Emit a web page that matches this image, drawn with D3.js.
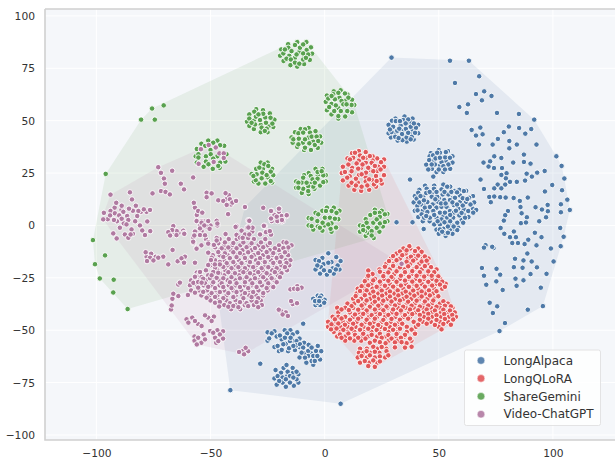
<!DOCTYPE html>
<html>
<head>
<meta charset="utf-8">
<script src="https://cdn.jsdelivr.net/npm/d3@7"></script>
<style>
  body { margin: 0; background: #fff; }
  text { font-family: "DejaVu Sans", sans-serif; }
</style>
</head>
<body>
<svg id="chart" width="615" height="462"></svg>
<script>
const seriesNames = ["LongAlpaca", "LongQLoRA", "ShareGemini", "Video-ChatGPT"]
const xTicks = [-100, -50, 0, 50, 100]
const yTicks = [-100, -75, -50, -25, 0, 25, 50, 75, 100]

// values, cluster by cluster
const longAlpaca = [
  [29.3,80.1],[54.9,78.6],[63.2,78.6],[67.7,71.2],[57.1,68],[66.3,62.7],[69.9,64],[73.1,61.8],[68.9,59.7],[59,56.5],
  [62.8,57.8],[62.3,53.7],[75.5,53.7],[85.1,53.2],[91.8,50.5],[64.4,45.6],[68.2,46.7],[66.3,42.9],[69.2,43.5],[67.6,38.6],
  [73.6,38.6],[75.9,41.3],[78.5,44.5],[80.7,47.2],[85.2,46.5],[87.9,43.8],[90.5,46],[80.9,40.3],[84.2,38.6],[80.9,36.8],
  [92.8,38.6],[101.5,33],[103.8,28.4],[87.3,33.8],[74.3,33],[77.4,32.2],[69.6,30],[72.5,30.6],[71.8,28.1],[74.2,27.4],
  [77.7,27.4],[82.6,30],[87.3,30.3],[90.2,29.5],[79.7,24.9],[77.4,24.1],[88.5,24.7],[93.1,25.2],[96.4,26],[90.8,23.3],
  [87.8,21.4],[79.4,22.5],[84.2,20.8],[81.2,20.8],[79.1,19.5],[75.8,19.5],[74.3,17.7],[77.4,17.7],[68.3,21.9],[69.8,17.4],
  [105,22.4],[99.7,19.3],[96.5,16.2],[104,16.8],[72.1,13.6],[74.3,13.8],[76.9,13.5],[79.3,13.3],[82.8,13.1],[85.5,11.7],
  [89,13.3],[72.8,11.1],[106.3,12.3],[103.5,10.1],[107.4,7.4],[103.5,6.3],[97.7,9.8],[92.4,8.7],[95.2,7.6],[97.8,6.8],
  [85.8,8.8],[86.3,5.8],[80.3,6.9],[79.1,4.9],[78.5,2.3],[88.6,3.9],[97,3.9],[94,2],[86,1.1],[88.2,1.4],
  [77.1,-1.2],[103.2,-1.2],[37.4,21.9],[47.6,23.3],[31.5,1.5],[38.5,1.5],[43.4,-1.7],[66.4,7.4],
  [104.7,-5.4],[103.4,-9.9],[78.7,-4],[82.9,-2.9],[81.2,-5.6],[83.8,-5.6],[92.1,-3.5],[95,-5.6],[89.2,-6.8],[82.2,-8.4],
  [84.7,-8.4],[87.6,-8.9],[92.8,-9.5],[99.1,-11],[70.5,-9.4],[69.8,-10.6],[74,-10.8],[73.4,-10.2],[88.8,-13.4],[83.4,-15.9],
  [87.1,-16.7],[90.7,-17.2],[100.3,-17.2],[82.9,-19.9],[86.7,-20.2],[93,-20],[68.9,-20.3],[75.3,-20.7],[76.9,-23.5],[69.8,-24],
  [90.2,-23.2],[97.2,-23.1],[75.2,-26.7],[83.6,-25.4],[87.1,-26.2],[70.8,-28.3],[84.1,-28.8],[94.7,-29.7],[78,-30.8],[72.3,-36.9],
  [75.6,-38.6],[73.7,-41.8],[89,-40.2],[95.6,-38.5],[79,-46.6],[76.6,-50.4],
  [-41.3,-78.6],[-28.2,-66],[-9.4,-46.9],[7,-85.1],[2.8,-46.5],[-46.2,-38.7],[-34.9,8.8],
  // blob near (35, 46)
  [31.2,49.8],[34.4,50.3],[38.1,49],[36.6,50.6],[30,47.1],[33.3,47.7],[35.6,46.1],[38.5,45.8],[29.3,44.6],[31.8,45.2],
  [33.9,43.6],[30.9,42.3],[34.1,40.7],[35.9,42],[38.2,42.3],[40,46.6],[39.6,44.2],[36.6,44.2],[32.7,46.2],[33,49.8],
  [35.5,48.7],[37.7,47.1],[28.6,45.8],[37.7,41.1],[32.4,41.7],[39.1,48.7],
  // blob near (50, 31)
  [48.6,32],[52.8,32.5],[50.5,34.7],[51.2,30.2],[48.3,29.1],[54.2,29.1],[50,26.7],[45.4,26.7],[52,28.3],[45.8,31.2],
  [54.9,32.3],[50.5,32.3],[49.3,34.7],[52.7,26.7],[53.1,35],[46.9,29.1],
  // big blob near (52, 8)
  [44.7,17.5],[47.9,17.5],[51.2,17.2],[53.7,18.5],[56.8,16.4],[61,16.4],[41,15.6],[43.2,13.7],[46.9,13.7],[49.3,13.7],
  [51.7,14.8],[54.2,14.8],[57.1,13.2],[59.3,14.3],[63.3,13.2],[40.3,12.8],[42.2,10],[45,11.2],[47.3,10],[49.8,11.2],
  [52.4,12.1],[54.9,12.1],[56.6,9.7],[59.3,11.2],[61.9,11.2],[63.9,10],[40.6,9.3],[40.7,7.2],[43.9,8.5],[46.1,8.8],
  [49,8.5],[51.2,8.9],[53.4,8.9],[54.9,6.9],[58.5,8],[61,7.7],[62.9,6.9],[42.5,5.3],[45,6.4],[47.6,6.9],
  [50.5,6.1],[52.7,6.1],[56.6,6.1],[59,4.8],[61.5,3.7],[65.1,6.1],[43.6,3.7],[46.1,3.7],[49,3.7],[51.2,2.9],
  [53.7,3.7],[56.3,3.7],[58.1,1.3],[60.7,1.3],[50.5,.5],[53.4,.8],[55.6,.5],[57,-1.6],[52,-1.6],[54.9,-1.9],
  [52.7,-3.5],[50.5,-1.9],[58.1,-2.2],[42,14],[44.5,15.5],[46,16],[49,16],[52.5,16],[55.5,16],[58,15.8],
  [60.5,13],[62.5,12.6],[41.5,11],[43.5,12],[48.5,12.5],[51,10.5],[53,10.5],[56,11],[58,10],[60.5,9.5],
  [44.5,4.5],[48,5],[55,5],[57.5,7],[60,6],[49.5,2],[52.5,1.5],[55,2],[54,-.5],[56.5,-.5],[51.5,-3],[54,-3.5],
  // small blobs under the purple and red
  [1.6,-13.3],[-2.5,-17],[5.1,-15.1],[1.6,-17.8],[5.7,-19.1],[-1.6,-19.9],[-.3,-21.4],[2.3,-21.8],[4.9,-21],[-3.2,-19.1],
  [-3.2,-36.9],[-2.1,-34.5],[-4.2,-36.1],[-1.3,-36.1],[-.2,-36.9],[-2.4,-36.1],
  [-23.2,-51.5],[-24.3,-53.9],[-18.8,-54.4],[-16.4,-51.5],[-14,-52],[-15.2,-55.2],[-12.3,-55.2],[-18.1,-56.7],[-20.6,-57.5],[-18.8,-59.4],
  [-15.6,-58.6],[-12.3,-57.2],[-10.8,-56.7],[-17.4,-53.6],[-13.7,-57.5],[-14.9,-53.6],[-19.6,-52.5],
  [-9.4,-58.3],[-10.1,-60.7],[-7.2,-59.9],[-3.8,-59.9],[-7.2,-62.3],[-5,-62.3],[-3.2,-62.3],[-5.7,-64.7],[-8.6,-63.1],[-4.3,-64.7],[-5.7,-58.3],
  [-16.7,-66.6],[-19.1,-70.3],[-16.2,-69.8],[-12.3,-69.8],[-20.6,-71.9],[-18.4,-72.6],[-15.2,-71.9],[-12.3,-73.4],[-18.4,-75],[-15.2,-75],
  [-19.9,-74.2],[-13.7,-72.6],[-17,-73.4]
]
// half hidden points that make the speckled edge of the blobs
const longAlpacaUnder = [
  [35,52],[31,51],[38.5,51],[41,48],[41,44],[39,41],[36,40],[32,40.5],[29,42],[28,44],[28,48],[29.5,50],[34,45],[37,49],[31,44],[35,42.5],[38,44],[33,48.5],
  [50,36],[46.5,34.5],[54,35.5],[56,33],[56,30],[55,27],[52,25.5],[49,25.5],[47,27],[46,33],[44.5,29],[48,31],[53,31],[50.5,28.5],[47.5,33.5],
  [39.5,14],[39,11],[39.5,7],[41,4],[43,2],[46,2],[48,.5],[49,-2],[50,-4],[53,-5],[56,-4],[58.5,-1],[60,2.5],[63,4],[65,8],[65.5,11],[65,14],
  [62,16.5],[59,17],[55,18.5],[52,19.5],[48,19],[44,19],[41.5,17],[47,15],[50,13],[56,13],[61,5],[46,7.5],[44,10],[52,4.5],[58,6],[54,8],[48,10.5],[43,7],[60,11],
  [-4,-16.5],[-4,-21],[-2,-23],[1,-23.5],[4,-23],[6.5,-21],[7,-17],[3,-17.5],[-1,-15.5],[-.5,-18.5],[3.5,-20.5],
  [-5,-35],[-4,-38],[-2,-38],[0,-35.5],[-3,-33.5],[-1.5,-33.5],
  [-25,-51],[-25,-55],[-22,-50.5],[-21,-53],[-17.5,-50],[-15,-50],[-12,-51],[-11,-54],[-9,-56],[-16,-60],[-20,-60],[-22,-58],[-13,-59.5],[-17,-56.5],[-14,-55],
  [-11,-58],[-11,-63],[-7,-57],[-3,-57.5],[-1.5,-60],[-2,-64],[-5,-66.5],[-8,-65.5],[-6,-61],[-9,-61],[-4,-62],
  [-21.5,-69],[-22,-73],[-21,-76],[-17,-77],[-13.5,-76.5],[-11.5,-75],[-11.5,-71],[-14,-68],[-18,-68],[-16.5,-72],[-14,-70.5],[-19.5,-72.5]
]

const longQLoRA = [
  [37.1,-9.9],[33,-12.4],[35.9,-11.9],[39.6,-12.2],[42.5,-12.6],[30,-14.6],[34,-14.2],[37.8,-14.9],[41,-14.4],[43.9,-14.8],
  [28.2,-17],[31.5,-16.6],[35.9,-17.3],[38.8,-16.8],[42.5,-17.2],[44.7,-16.8],[26.4,-19.7],[30,-19.3],[33,-20],[36.6,-19.5],
  [40.3,-19.9],[43.9,-19.4],[46.6,-19.9],[19.1,-21.5],[24.2,-22.1],[27.9,-22.4],[31.5,-21.9],[35.2,-22.3],[38.4,-21.8],[41.7,-22.3],
  [45.4,-21.9],[48,-22.3],[19.1,-24],[25.7,-24.2],[29.3,-24.6],[33.4,-24],[36.9,-24.5],[40.3,-24],[43.6,-24.4],[46.9,-24],
  [49.8,-24.3],[17.6,-26.6],[21.3,-26.2],[24.2,-26.8],[27.9,-26.4],[31.5,-26.9],[35.2,-26.3],[38.4,-26.8],[41.7,-26.4],[45.4,-26.9],
  [49,-26.4],[51.5,-26.8],[16.2,-29],[19.1,-28.6],[22.8,-29.3],[26.4,-28.8],[30,-29.2],[33.4,-28.7],[36.9,-29.3],[40.3,-28.8],
  [43.9,-29.2],[47.1,-28.7],[50.5,-28.2],[52.7,-29.3],[15.5,-31.3],[18.4,-31],[21.3,-31.6],[25,-31.1],[28.6,-31.5],[32,-31],
  [35.5,-31.6],[38.8,-31.1],[42.5,-31.5],[45.7,-31],[49,-31.4],[13.6,-33.7],[17.6,-33.3],[21.7,-34],[25.2,-33.5],[28.6,-33.9],
  [32.3,-33.4],[35.9,-34],[39.3,-33.5],[42.5,-33.9],[46.1,-33.4],[49.8,-33.8],[14.7,-36.1],[18.4,-35.8],[22,-36.4],[25.7,-35.9],
  [29.3,-36.3],[33,-35.8],[36.6,-36.4],[40.3,-35.9],[43.9,-36.3],[47.6,-35.8],[52,-36.2],[11.8,-38.5],[16.2,-38.2],[19.8,-38.8],
  [23.5,-38.3],[27.1,-38.7],[30.8,-38.2],[34.4,-38.8],[38.1,-38.3],[41.7,-38.7],[45.4,-38.2],[49,-38.8],[52.7,-38.3],[55.3,-38.6],
  [7.4,-40.1],[10.6,-40.4],[14.7,-40.2],[18.4,-40.6],[22,-40.1],[25.7,-40.5],[30,-40.1],[33.4,-40.6],[37.4,-40.1],[41,-40.5],
  [44.7,-40.1],[48.3,-40.6],[52,-40.2],[54.9,-40.6],[13.3,-42.5],[16.9,-42.2],[20.6,-42.8],[24.2,-42.3],[27.9,-42.7],[31.5,-42.2],
  [35.2,-42.8],[38.4,-42.3],[41.7,-42.7],[45.4,-42.2],[49,-42.8],[52.4,-42.3],[55.9,-42.7],[4.5,-44.8],[7.4,-44.4],[11.1,-45],[14.7,-44.5],
  [18.4,-45],[22,-44.5],[25.7,-45.1],[29.3,-44.6],[33,-45],[36.6,-44.5],[41.7,-45],[45.4,-44.5],[49,-45.1],[52.7,-44.6],
  [56.3,-44.9],[3,-47.2],[6,-46.8],[8.9,-47.4],[12.5,-46.9],[16.2,-47.4],[19.8,-46.9],[23.5,-47.5],[27.1,-47],[30.8,-47.4],
  [34,-46.9],[41,-47.4],[44.7,-46.9],[48.3,-47.5],[52,-47],[55.3,-47.4],[2.8,-49.6],[5.2,-49.2],[8.2,-49.8],[11.8,-49.3],
  [15.5,-49.8],[19.1,-49.3],[22.8,-49.9],[26.4,-49.4],[30,-49.8],[33,-49.3],[38.1,-49.7],[51.2,-49.6],[6.7,-52],[10.4,-51.6],
  [13.3,-52.2],[16.9,-51.7],[20.6,-52.2],[24.2,-51.7],[27.9,-52.3],[31.5,-51.8],[35.2,-52.2],[39.6,-51.7],[7.4,-53.6],[11.1,-53.9],
  [14.7,-53.6],[17.9,-54],[25,-53.6],[29.3,-54],[33.4,-53.6],[37.4,-54],[19.8,-56],[24.2,-55.7],[26.7,-56.2],[30.8,-55.8],
  [35.9,-56.2],[33.7,-55.7],[21.3,-57.9],[30.8,-58.2],[38.1,-57.9],[25,-58],[35.2,-58.3],[18.4,-60],[22,-60.3],[27.1,-60],
  [16.2,-62.3],[19.8,-62],[24.2,-62.5],[27.9,-62],[17.6,-64.7],[21.3,-64.4],[24.2,-64.9],[19.1,-67.1],[22,-67.5],
  // blob near (16, 26)
  [12.5,32.3],[15.5,33.4],[18.1,32.3],[20.6,29.9],[24.7,30.2],[10.4,29.1],[14,29.6],[16.6,29.1],[19.1,27.5],[22,28.4],
  [8.9,25.5],[11.8,25.9],[14.7,27.1],[18.1,25.2],[21.3,25.9],[24.5,26.7],[9.9,22.8],[13.7,22.3],[16.2,24.4],[19.5,22],
  [22.5,23.6],[24.5,21.6],[11.8,20.4],[16.2,18.5],[13.7,19.1],[18.7,19.1],[21.6,19.6],[16.9,32.3],[13.3,34.7],[11.1,31.5],
  [19.8,33.1],[22.8,21.2]
]
const longQLoRAUnder = [
  [10,32],[8,28],[7.5,25],[8,21.5],[10.5,19],[13,17],[16,16.5],[19.5,17],[22.5,18.5],[25,20],[26,24],[26,28],[26,31.5],[23,32],[21,33],[18,35],
  [15,35.5],[12,34.5],[15,31],[18,30],[21,31],[12,27.5],[16,27.5],[20,26.5],[23,26],[11,23.5],[15,24],[18,23],[21,21.5],[14.5,20.5],[18,21],[23.5,28]
]
// same cluster, rows written as [y, x, x, ...]
const longQLoRAUnderRows = [
  [-11,34.5,37.5,41],
  [-13.4,31.5,35.5,39.5,42.5],
  [-15.8,29,33,36.5,40,43,45.5],
  [-18.3,27,30,34,37.5,41.5,45],
  [-21,24,28.5,32,35,39,42.5,46,49],
  [-23.2,21,26,30.5,34.5,38,42,45.5,48.5],
  [-25.5,18.5,22,26,30,33,37,40,43.5,47,50.5],
  [-27.8,17.5,20.5,24.5,28.5,32,35.5,39,42.5,46,49,53],
  [-30.2,14.5,17.5,21,24,27.5,31,34.5,38,41,44.5,48,51.5],
  [-32.5,14,17,20,23.5,27,30.5,34,37.5,41,44,47.5],
  [-35,12.5,16,20,23.5,27.5,31,34.5,38,41.5,45,48],
  [-37.3,10,13,17.5,21,25,29,32.5,36,39.5,43.5,47,50.5,54],
  [-39.3,5.5,9,12.5,16.5,20,24,27.5,32,35.5,39,43,46.5,50.5,56],
  [-41.5,6,11,15,18.5,22.5,26,29.5,33.5,37,40,43.5,47,51,54,57],
  [-43.6,3.5,6,9,12.5,16,19.5,23,26.5,31,34.5,37.5,43.5,47,51,54.5,57.5],
  [-46,1.5,5,8,10.5,14,18,21.5,25,29,32.5,39,43,46.5,50.5,54],
  [-48.4,1.5,4,7,10,13.5,17,21,24.5,28.5,32,36,40,50],
  [-50.8,4,7,10,13,17,20.5,24,28,32,36,39],
  [-53,5.5,9,13,16,19,23,27,31.5,35],
  [-55,9,13,16,22,28,32,38],
  [-58.8,15.5,18.5,23,27],
  [-60.8,15,17,20,24],
  [-63,14.5,18.5,22,26.5],
  [-65.5,15.5,19.5,23]
]

const shareGemini = [
  [-95.9,24.6],[-80.4,50.5],[-75.6,55.8],[-70.5,57.3],[-74.4,50.5],[-101.5,-7],[-96.2,-14.3],[-100.6,-18.5],[-98.5,-25.3],[-92.4,-25.9],
  [-92.6,-32],[-86.3,-39.9],
  [-15.9,84.8],[-13,86.1],[-10.8,84.8],[-9.4,86.4],[-7.9,83.7],[-18.1,82.1],[-14.5,83.2],[-12.3,81.6],[-9.4,82.1],[-7.2,81.6],
  [-16.7,79.6],[-14.8,79.2],[-13,77.7],[-11.1,77.2],[-9.4,79.2],[-17.4,84],[-8.2,80],
  [1.6,60.6],[3.8,62.6],[6,63.3],[8.9,63],[4.5,60.2],[7.4,59.4],[10.4,61],[2,56.5],[4.9,57.3],[8.2,57.8],
  [11.8,57.5],[4.2,54.6],[7.1,54.6],[9.9,54.6],[6,52.2],[3.05,61.8],[9.6,57.8],
  [-30.8,54.3],[-26.9,53.3],[-33,51],[-30.1,51.9],[-23.7,51.4],[-28.3,50.3],[-25.7,49],[-30.5,48.2],[-22.9,48.6],[-27.6,46.7],
  [-25.4,46.2],[-32,49],[-26.2,45.1],[-29,53],
  [-8.6,45.9],[-11.5,44],[-6.4,44.3],[-13.7,41.1],[-11.3,41.4],[-8.6,41.1],[-5.7,42.4],[-3.5,42.4],[-11.5,38.7],[-8.6,37.1],
  [-6.7,39.2],[-4.3,38.4],[-2.8,40.3],[-9.4,44.3],
  [-26.4,29.2],[-28.6,27.6],[-24.7,28.4],[-29.8,24.4],[-27.3,25.2],[-23.6,25.7],[-30.2,21.6],[-27.6,22.5],[-23.6,21.2],[-25.4,24],[-31.2,23.6],
  [-45.8,38.3],[-48.8,39.5],[-52.4,37.9],[-55.3,34],[-49.9,34],[-45.8,30],[-52,30.5],[-55.3,32.4],[-48.8,31.9],[-53.9,36.4],[-46.6,28.4],[-50.9,29.2],
  [-11.5,20.4],[-9.4,22.8],[-9.4,17.5],[-11.5,18],[-7.2,18.8],[-6.1,23.6],[-3.1,25.5],[-5.3,22],[-2.8,22],[-.6,23.9],
  [-3.1,22.3],[-.6,20.7],[-4.3,20.4],[-7.2,16.4],[-7.9,20.4],[-1.3,25.9],
  [-5.7,3.2],[-3.2,2.1],[-5.7,-.3],[-2.1,-1.1],[.6,6.9],[3.05,6.9],[.1,3.7],[2.3,3.7],[4.5,3.2],[-.9,1.3],
  [2.6,-1.6],[-2.8,5.3],[5.2,6],[1.6,.5],
  [16.9,-.3],[19.1,-1.1],[17.7,-2.7],[20.6,-2.7],[18.4,1.3],[22.8,-1.1],[24.2,4.1],[22,6],[26.4,5.3],[21.3,1.3],
  [24.2,1],[26.4,1.6],[22.8,2.9],[20.6,-4.8],[16.9,-2.2]
]
const shareGeminiUnder = [
  [-12,87.5],[-8,87.5],[-6,85],[-5.5,82],[-6.5,79],[-9,77],[-12,75.8],[-15,76.5],[-18,78.5],[-19.5,81],[-19,84],[-16,86.5],[-11,83],[-13,80],[-15.5,81],[-9,80.5],
  [1,62],[.5,59],[1,55],[3,53],[6,51],[9,52],[12,54],[13,57.5],[12,60],[10,62.5],[7,64.5],[4,64],[3,58],[6,56],[6.5,61],[9,59.5],
  [-34,49.5],[-33,53],[-30,55.5],[-27,55],[-24,53.5],[-22,50.5],[-22.5,47],[-25,44.5],[-28,44.5],[-31,46],[-33,47.5],[-28,48],[-26,51.5],[-31,50],[-24.5,47.5],
  [-14.5,42],[-13,44.5],[-10.5,46],[-7,46.5],[-4,45],[-2,42.5],[-1.5,39.5],[-3,37],[-6,36],[-9,36],[-12,37.5],[-14,39.5],[-9.5,39.5],[-7,42],[-5,40],
  [-32,24.5],[-31,21],[-29,20],[-26,20],[-23,20.5],[-22.5,24],[-23,27],[-25,30],[-28,30],[-30,27],[-27,27],[-25,23],
  [-56.5,33],[-56,36.5],[-54,39],[-51,40.5],[-47,40.5],[-44,38],[-43,34],[-43.5,30.5],[-46,27.5],[-49,27],[-53,28],[-56,30],[-50,36],[-47,33],[-52,33],
  [-12.5,21],[-12.5,18],[-10,15.5],[-7,15],[-4.5,17.5],[-2,19],[.5,21],[.5,24],[-1,27],[-4,27],[-7,25],[-9,24],[-6,20],[-10,20.5],[-3,24],[-5,18.5],
  [-7,3.5],[-7,0],[-5,-2],[-1,-2.5],[3,-3],[5,-1],[6,3],[6.5,7],[4,8.5],[1,8.5],[-1,7],[-4,6],[0,0],[3,1],[-3,-.5],
  [15.5,0],[15.5,-3],[18,-5],[21.5,-6],[24,-3],[25.5,-.5],[27.5,2],[27.5,5.5],[25,7],[22,7.5],[20,5],[18,3],[23.5,-.5],[19,-3.5],[24,6]
]

const videoChatGPT = [
  // lone point inside the red cluster
  [33.7,-18.3],
  // over the green blob
  [-54.2,36.4],[-50.8,38.4],[-47.7,37.2],[-46.1,34.4],[-44.2,34.4],[-44.2,32.2],[-48.6,30.3],[-55.2,29.4],
  // main blob rows
  [-55.4,2.1],[-47.3,2.2],[-53.9,1.9],[-33.5,2.4],[-23.2,2.1],[-18.9,1.9],
  [-66.3,-.3],[-54.6,-.2],[-51.7,-.5],[-38.6,-.3],[-33.5,-.5],[-26.2,-.2],
  [-64.8,-2.7],[-61.9,-2.5],[-56.8,-2.9],[-53.9,-2.7],[-36.4,-2.5],[-31.7,-2.9],[-25.4,-2.7],
  [-54.6,-4.3],[-43.4,-4.1],[-38.6,-4.5],[-34.9,-4.3],[-28.3,-4.1],[-23.5,-4.4],
  [-57.5,-5.9],[-33.5,-6],[-37.1,-5.8],[-47.3,-6],
  [-57.5,-8.3],[-51,-8],[-46.6,-8.5],[-43.7,-8.1],[-40,-8.4],[-35.6,-8.1],[-32,-8.5],[-27.9,-8.1],[-24,-8.4],[-16.7,-8.2],
  [-56,-10.7],[-48,-10.4],[-45.1,-10.9],[-42.2,-10.5],[-38.6,-10.9],[-34.2,-10.4],[-30.5,-10.8],[-26.9,-10.4],[-21.8,-10.9],[-15.9,-10.5],[-18.1,-10.8],
  [-51,-13],[-46.6,-12.7],[-43.7,-13.3],[-40,-12.8],[-37.1,-13.2],[-33.5,-12.8],[-29.1,-13.2],[-25.4,-12.7],[-22.5,-13.2],[-17.4,-12.8],
  [-49.5,-15.4],[-44.4,-15],[-41.5,-15.6],[-38.6,-15.1],[-34.9,-15.5],[-32,-15],[-28.3,-15.6],[-24.7,-15.1],[-21,-15.5],[-18.9,-15],
  [-50.2,-17.8],[-45.9,-17.4],[-42.9,-18],[-40,-17.5],[-36.4,-18],[-32.7,-17.5],[-29.1,-18],[-26.2,-17.5],[-22.5,-17.9],[-19.6,-17.5],[-16.7,-17.9],
  [-48,-20.2],[-44.4,-19.8],[-40.8,-20.4],[-37.8,-19.9],[-34.9,-20.4],[-31.3,-19.9],[-27.6,-20.4],[-24.7,-19.9],[-21,-20.4],[-17.4,-19.9],
  [-54.6,-22.6],[-48.8,-22.2],[-45.9,-22.8],[-42.2,-22.3],[-39.3,-22.8],[-35.6,-22.3],[-32.7,-22.8],[-29.1,-22.3],[-25.4,-22.8],[-21.8,-22.3],[-18.9,-22.8],
  [-56.8,-25],[-53.9,-24.6],[-50.2,-25.2],[-47.3,-24.7],[-44.4,-25.2],[-40.8,-24.7],[-37.1,-25.2],[-34.2,-24.7],[-30.5,-25.2],[-26.9,-24.7],[-23.2,-25.2],[-19.6,-24.7],
  [-57.5,-27.4],[-55.4,-27],[-52.4,-27.6],[-48.8,-27.1],[-45.1,-27.6],[-41.5,-27.1],[-38.6,-27.6],[-34.9,-27.1],[-31.7,-27.6],[-28.3,-27.1],[-24.7,-27.6],[-21,-27.1],
  [-55.4,-29.7],[-51,-29.3],[-48,-29.9],[-44.4,-29.4],[-40.8,-29.9],[-37.1,-29.4],[-33.5,-29.9],[-29.8,-29.4],[-25.4,-29.9],[-22.5,-29.4],
  [-56.8,-32.1],[-53.2,-31.7],[-49.5,-32.3],[-45.9,-31.8],[-42.2,-32.3],[-38.6,-31.8],[-34.9,-32.3],[-31.3,-31.8],[-26.9,-32.3],
  [-51.7,-34.5],[-48,-34.1],[-44.4,-34.7],[-40,-34.2],[-35.6,-34.7],[-32,-34.2],[-29.1,-34.7],
  [-48,-36.9],[-45.9,-36.5],[-41.5,-37.1],[-37.1,-36.6],[-34.2,-37.1],[-29.8,-36.6],
  [-42.2,-38.8],[-40,-38.4],[-37.8,-39],[-33.5,-38.5],[-29.1,-39],[-46.2,-38.7],
  [-64.1,-28.2],[-59.9,-33.2],[-64.1,-33.7],[-66.7,-35],[-66.3,-32.6],[-67.3,-40.1],[-67,-38.2],
  // lower left group
  [-60.5,-44.8],[-56.8,-45.6],[-52.4,-42.9],[-49.5,-45.6],[-53.9,-48],[-59.7,-46.4],[-50.2,-50.4],[-48,-53.6],[-52.4,-54.4],[-55.4,-53.6],
  [-45.9,-52],[-56,-56.8],[-48.8,-51.2],[-46.6,-55.2],
  [-34.6,-58.4],[-35.3,-61.5],[-37.5,-60.4],
  // right of the main blob
  [-13.4,-30.2],[-10.1,-29.7],[-11.8,-30.4],[-14.7,-36.1],[-12.1,-37.1],[-20.1,-40.2],[-18.4,-42.5],[-16.1,-43.2],
  [-34.9,8.8],[-26.9,8.4],[-23.2,6.9],[-19.9,8],[-23.5,3.2],[-20.7,2.1],[-18.8,4.5],[-16.7,4.5],[-18.4,2.1],
  [-33,2.4],[-33.9,-1.1],[-31.6,-1.1],[-28.3,-4.3],[-26.6,-.3],[-25.7,-3.2],[-24,-2.7],[-35.9,-5.9],[-33,-4.3],
  // left groups
  [-72.9,27.8],[-71.7,25.1],[-66.8,26.1],[-70.4,22.4],[-70,19.9],[-57.6,22.9],[-63,19.9],[-61.6,17.2],[-75.4,15.3],[-71.7,16.4],
  [-69.7,16],[-67.8,14.8],[-85.3,15.8],[-93.8,14.7],[-84.4,12.4],[-91.3,10.8],[-88.9,9.4],[-82.7,9.4],[-85.7,8],[-79.2,7.7],
  [-76.5,7.4],[-96.7,6],[-93.8,6.9],[-91.9,5.8],[-88.2,6.5],[-81.6,6.9],[-94,4.8],[-90,4.8],[-86.5,4.5],[-82.1,4.5],
  [-97,2.9],[-92.3,2.6],[-88.9,3.2],[-86,2.6],[-77.7,1.9],[-89.7,-1.1],[-86.8,.5],[-84.6,-1.9],[-80.9,0],[-92.6,-3.8],
  [-87.5,-4.3],[-79.9,-2.4],[-76.4,-2.7],[-91.1,-6.2],[-86,-5.9],[-78.7,-4.6],[-85,-4.3],
  [-66.8,-2.2],[-68.5,-3.2],[-64.9,-4.6],[-61.6,-3.6],[-66.6,-11.7],[-78.4,-12.8],[-76.5,-15.4],[-70.7,-14.9],[-72.9,-15.4],[-77.8,-17],
  [-75,-16.7],[-68.5,-18.6],[-64.4,-17.1],[-61.2,-14.9],[-62.7,-15.7],[-61.6,-17.8],[-56.8,-17.8],
  [-56.8,8.5],[-57.3,10.8],[-55.4,6.9],[-53.6,6.1],[-56.1,2.1],[-53.9,1.3],[-51,2.1],[-54.6,-1.4],[-52.7,0],[-50.4,-1.6],
  [-56.8,-4.7],[-54.6,-4.6],[-52.4,-4.7],[-57.6,-7.8],[-56.1,-11.1],[-51,-8.7],[-48.5,-9.3],[-47,0],[-51.7,15.6],[-49.5,15.3],
  [-51.7,13.5],[-46.6,12],[-49.8,-16.5],[-54.6,-22.2],[-56.8,-24.5],[-49.5,-23.8],[-53.2,-25.4],[-47.3,-25],[-53.9,-27.3],[-45.9,-18.6],
  [-63.4,-27.3],[-51,-18.9],[-48.1,-18.6],[-46.6,-22.6],
  [-47,.9],[-39,-.7],[-33,2.2],[-33.4,-1],[-26.6,-.2],[-44.4,11.7],[-43.4,15.4],[-41.5,12.5],[-40.4,10.9],[-42.3,5.4],[-42.9,9.8],[-38.8,11.7],
  [-21,4.2],[-23.5,6.9],[-20,8],[-16.6,4.9],[-18.7,2.6],[-23.5,3.3],
  [-67.7,-4.8],[-61.5,-4],[-57.1,-4.8],[-47.3,-7.2]
]
const videoChatGPTUnder = [
  [-60,-46],[-58,-44],[-51,-44],[-48.5,-43.5],[-55.5,-47],[-57,-53],[-53,-52],[-47,-50],[-44.5,-50.5],[-44.5,-54],[-47.5,-56],[-54,-56],[-57,-55],
  [-92,8.5],[-89,7.5],[-84,7],[-80.5,6.5],[-78,6.5],[-95,3],[-91,2],[-83,2],[-88,1],[-84,-4],
  [-53,2],[-50,0],[-55,-3],[-53.5,-3.5],[-56,5],[-43,12.5],[-41,10],[-42,14.5],[-78,-15],[-74,-15],[-76,-13.5],[-36,-60],[-33.5,-60],
  [-66,-3],[-64,-3.5],[-55,-25],[-56,-22.5],[-20,6.5],[-22,5],[-19,3],[-15,-30.5],[-12,-29],[-14,-37.5],[-19,-41],[-17,-41.5],[-16,-10],[-18,-8]
]
// rows written as [y, x, x, ...]
const videoChatGPTUnderRows = [
  [-6.5,-52,-46,-42,-38.5,-31,-26],
  [-9.5,-54,-49,-44,-40.5,-37,-33,-29,-25,-20,-14.5],
  [-11.8,-47,-44,-41,-36,-32,-28,-24,-20,-16.5],
  [-14.2,-49,-46,-42.5,-39,-35.5,-31,-27,-23,-19.5,-16],
  [-16.6,-48,-44,-41,-37.5,-34,-30,-27,-23.5,-20.5,-17,-15],
  [-19,-50,-46.5,-42.5,-39,-36,-33,-30,-26,-22,-19,-15.5],
  [-21.4,-52,-47,-43.5,-40,-37,-34,-30.5,-27,-23,-20,-16.5],
  [-23.8,-55.5,-51,-47.5,-44,-41,-37.5,-34,-31,-28,-24,-20.5],
  [-26.2,-58.5,-55,-52,-48.5,-46,-42.5,-39,-35.5,-32.5,-29,-25.5,-22],
  [-28.6,-59,-56,-53,-49.5,-46,-42,-39,-35,-32,-27.5,-24],
  [-31,-58.5,-55,-51.5,-47.5,-44,-40,-36.5,-33,-29,-25],
  [-33.4,-54,-50.5,-47,-43,-39,-36,-33,-30,-27],
  [-35.8,-50,-46.5,-43,-39,-36,-32,-28],
  [-38,-44,-39,-35,-31,-27.5],
  [-40,-41,-37]
]

const fromRows = rows => rows.flatMap(r => r.slice(1).map(x => [x, r[0]]))

// under points come first so the clean dots sit on top of them
const seriesData = [
    longAlpacaUnder.concat(longAlpaca),
    longQLoRAUnder.concat(fromRows(longQLoRAUnderRows), longQLoRA),
    shareGeminiUnder.concat(shareGemini),
    videoChatGPTUnder.concat(fromRows(videoChatGPTUnderRows), videoChatGPT)
]
const seriesColors = ["#4e79a7", "#e15759", "#59a14f", "#b07aa1"]

const width = 615, height = 462
const margin = {top: 9, right: 0, bottom: 22, left: 45}

const xScale = d3.scaleLinear()
    .domain([-122.5, 127.2])
    .range([margin.left, width - margin.right])
const yScale = d3.scaleLinear()
    .domain([-102.4, 103.3])
    .range([height - margin.bottom, margin.top])

const svg = d3.select("#chart")

// background + grid
svg.append("rect")
    .attr("x", margin.left).attr("y", margin.top)
    .attr("width", width - margin.left - margin.right)
    .attr("height", height - margin.top - margin.bottom)
    .attr("fill", "#f5f7fa")

svg.append("g").selectAll("line").data(xTicks).enter().append("line")
    .attr("x1", d => xScale(d)).attr("x2", d => xScale(d))
    .attr("y1", margin.top).attr("y2", height - margin.bottom)
    .attr("stroke", "#fff").attr("stroke-width", 1)
svg.append("g").selectAll("line").data(yTicks).enter().append("line")
    .attr("x1", margin.left).attr("x2", width - margin.right)
    .attr("y1", d => yScale(d)).attr("y2", d => yScale(d))
    .attr("stroke", "#fff").attr("stroke-width", 1)

// convex hulls
const hullLine = d3.line()
    .x(d => xScale(d[0]))
    .y(d => yScale(d[1]))
    .curve(d3.curveLinearClosed)

seriesData.forEach((points, i) => {
    svg.append("path")
        .attr("d", hullLine(d3.polygonHull(points)))
        .attr("fill", seriesColors[i])
        .attr("fill-opacity", 0.1)
})

// points
seriesData.forEach((points, i) => {
    svg.append("g").selectAll("circle").data(points).enter().append("circle")
        .attr("cx", d => xScale(d[0]))
        .attr("cy", d => yScale(d[1]))
        .attr("r", 2.75)
        .attr("fill", seriesColors[i])
        .attr("stroke", "#fff")
        .attr("stroke-width", 0.9)
})

// spines
const spineColor = "#d0d0d0"
svg.append("path")
    .attr("d", `M${margin.left},${margin.top}H${width}M${margin.left},${margin.top}V${height - margin.bottom}H${width}`)
    .attr("fill", "none").attr("stroke", spineColor).attr("stroke-width", 1.6)

// axes
const xAxis = svg.append("g")
    .attr("transform", `translate(0,${height - margin.bottom})`)
    .call(d3.axisBottom(xScale).tickValues(xTicks).tickSize(0).tickPadding(9))
const yAxis = svg.append("g")
    .attr("transform", `translate(${margin.left},0)`)
    .call(d3.axisLeft(yScale).tickValues(yTicks).tickSize(0).tickPadding(10))
xAxis.select(".domain").remove()
yAxis.select(".domain").remove()
svg.selectAll(".tick text")
    .attr("fill", "#333")
    .style("font-size", "10.7px")
    .style("font-family", '"DejaVu Sans", sans-serif')

// legend
const legend = svg.append("g").attr("transform", "translate(464.5,350)")
legend.append("rect")
    .attr("width", 136).attr("height", 75.5).attr("rx", 2)
    .attr("fill", "#fff").attr("fill-opacity", 0.8)
    .attr("stroke", "#ddd").attr("stroke-width", 0.8)
const legendItem = legend.selectAll("g.item").data(seriesNames).enter().append("g")
    .attr("class", "item")
    .attr("transform", (d, i) => `translate(0,${10.5 + i * 17.9})`)
legendItem.append("circle")
    .attr("cx", 16.5).attr("r", 3.8)
    .attr("fill", (d, i) => seriesColors[i])
    .attr("fill-opacity", 0.9)
    .attr("stroke", "#fff").attr("stroke-width", 0.5)
legendItem.append("text")
    .attr("x", 39).attr("dy", "0.35em")
    .attr("fill", "#333")
    .style("font-size", "12px")
    .text(d => d)
</script>
</body>
</html>
